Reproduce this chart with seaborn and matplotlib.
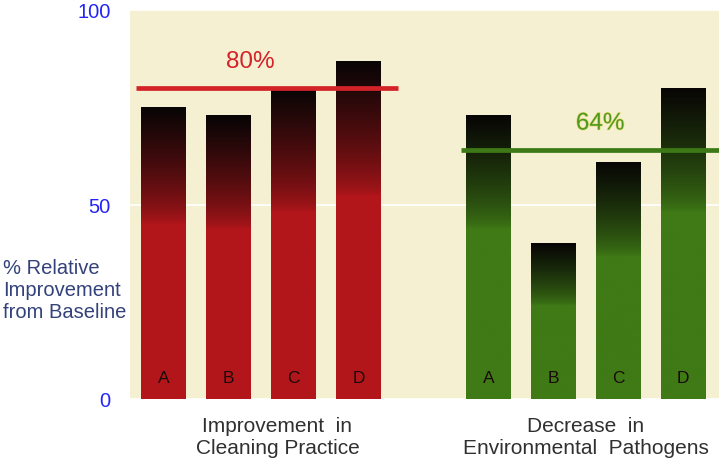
import numpy as np
import pandas as pd
import seaborn as sns
import matplotlib.pyplot as plt
import matplotlib.transforms as mtransforms
import matplotlib.patheffects as pe
from matplotlib.colors import to_rgb

# === data ===
groups = ["Improvement  in\nCleaning Practice", "Decrease  in\nEnvironmental  Pathogens"]
sites = ["A", "B", "C", "D"]
cleaning = [75, 73, 80, 87]
pathogens = [73, 40, 61, 80]
averages = [80, 64]
avg_labels = ["80%", "64%"]
y_ticks = [0, 50, 100]
y_label = "% Relative\nImprovement\nfrom Baseline"

# === style ===
bar_colors = ["#b2161b", "#3f7a16"]
line_colors = ["#d42328", "#3d7a17"]
avg_text_colors = ["#d42328", "#4f9a22"]
avg_nudge = [-0.25, 0.13]      # label offset from line middle
group_nudge = [0.25, 0.0]      # group caption offset from group middle
dark = np.array([0.03, 0.02, 0.02])

rows = []
for g, (name, vals) in enumerate(zip(groups, [cleaning, pathogens])):
    for i, (s, v) in enumerate(zip(sites, vals)):
        rows.append({"group": name, "site": s, "pos": g * 5 + i, "value": v})
df = pd.DataFrame(rows)

sns.set_style("white")
plt.rcParams['font.family'] = ['Liberation Sans', 'DejaVu Sans']

fig = plt.figure(figsize=(7.19, 4.64), dpi=100)
ax = fig.add_axes([130 / 719, 64 / 464, 589 / 719, 389 / 464])
ax.set_facecolor("#f6f0d3")

sns.barplot(data=df, x="pos", y="value", hue="group", palette=bar_colors,
            native_scale=True, dodge=False, width=0.69, saturation=1,
            linewidth=0, legend=False, ax=ax)

# gradient fill: solid at the bottom, fading to near black at the top
t = np.linspace(0, 1, 256)
f = np.clip((t - 0.6) / 0.4, 0, 1) ** 0.7
for patch in list(ax.patches):
    x0, y0 = patch.get_x(), patch.get_y()
    w, h = patch.get_width(), patch.get_height()
    base = np.array(to_rgb(patch.get_facecolor()))
    grad = base[None, :] * (1 - f[:, None]) + dark[None, :] * f[:, None]
    img = ax.imshow(grad[:, None, :], origin='lower', aspect='auto',
                    extent=[x0, x0 + w, y0, y0 + h], zorder=patch.get_zorder() + 0.1)
    img.set_clip_path(patch)

# site letters inside the bars
for _, r in df.iterrows():
    ax.text(r["pos"], 5.5, r["site"], ha='center', va='center', fontsize=12.5,
            color='#1a0a08', zorder=5)

# average lines and labels
trans = mtransforms.blended_transform_factory(ax.transData, ax.transAxes)
for g, name in enumerate(groups):
    sub = df[df["group"] == name]
    first, last = sub["pos"].min(), sub["pos"].max()
    ax.hlines(averages[g], first - 0.42, last + 0.6, color=line_colors[g], lw=3.4, zorder=6)
    mid = (first - 0.42 + last + 0.6) / 2
    txt = ax.text(mid + avg_nudge[g], averages[g] + 6.8, avg_labels[g], ha='center',
                  va='center', fontsize=17.5, color=avg_text_colors[g], zorder=6)
    if g == 1:
        txt.set_path_effects([pe.withStroke(linewidth=1.0, foreground='#e8dc7a')])
    ax.text((first + last) / 2 + group_nudge[g], -0.096, name, transform=trans,
            ha='center', va='center', fontsize=15, color='#303030', linespacing=1.2)

ax.set_xlim(-0.52, 8.55)
ax.set_ylim(0, 100)
ax.set_xticks([])
ax.set_yticks(y_ticks)
ax.tick_params(axis='y', length=0, pad=14, labelsize=14.5, labelcolor='#2424f5')
ax.yaxis.grid(True, color='white', lw=1.2)
ax.xaxis.grid(False)
ax.set_axisbelow(True)
ax.set_xlabel('')
ax.set_ylabel('')
for s in ax.spines.values():
    s.set_visible(False)

fig.text(0.004, 1 - 290 / 464, y_label, ha='left', va='center', fontsize=14.5,
         color='#33427a', linespacing=1.2)

plt.savefig('out.png', dpi=100)
